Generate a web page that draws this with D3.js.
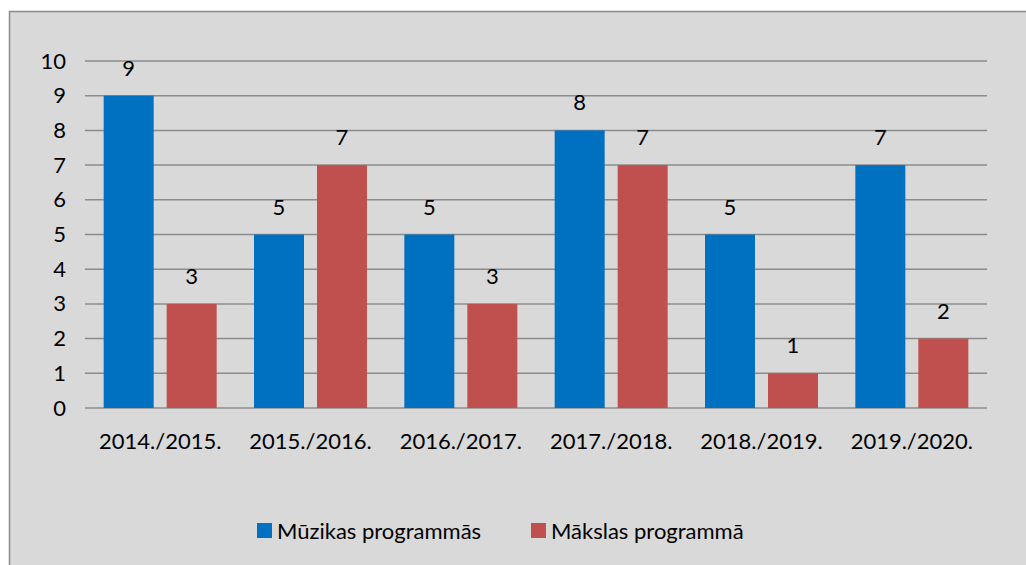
<!DOCTYPE html>
<html>
<head>
<meta charset="utf-8">
<script src="https://cdn.jsdelivr.net/npm/d3@7"></script>
<style>
  body { margin: 0; background: #fff; }
  text { font-family: Lato, "Open Sans", sans-serif; fill: #000; }
</style>
</head>
<body>
<div id="chart"></div>
<script>
// data
var years = ["2014./2015.", "2015./2016.", "2016./2017.", "2017./2018.", "2018./2019.", "2019./2020."];
var muzikas = [9, 5, 5, 8, 5, 7];
var makslas = [3, 7, 3, 7, 1, 2];
var seriesNames = ["Mūzikas programmās", "Mākslas programmā"];
var yTicks = [0, 1, 2, 3, 4, 5, 6, 7, 8, 9, 10];

var colors = ["#0070c0", "#c0504d"];

var W = 1026, H = 565;
var plot = {left: 85, right: 987, top: 61, bottom: 408};
var fs = 22;

var svg = d3.select("#chart").append("svg")
    .attr("width", W)
    .attr("height", H);

// grey chart area with border
svg.append("rect")
   .attr("x", 9.5).attr("y", 11.5)
   .attr("width", W + 10).attr("height", H + 10)
   .attr("fill", "#d9d9d9")
   .attr("stroke", "#8c8c8c")
   .attr("stroke-width", 1.5);

var x0 = d3.scaleBand()
    .domain(years)
    .range([plot.left, plot.right])
    .paddingInner(0).paddingOuter(0);

var y = d3.scaleLinear()
    .domain([0, 10])
    .range([plot.bottom, plot.top]);

// gridlines
svg.append("g").selectAll("line")
   .data(yTicks)
   .enter().append("line")
   .attr("x1", plot.left).attr("x2", plot.right)
   .attr("y1", function(d) { return y(d); })
   .attr("y2", function(d) { return y(d); })
   .attr("stroke", "#8c8c8c")
   .attr("stroke-width", 1.5);

// y axis labels
var yAxis = d3.axisLeft(y).tickValues(yTicks).tickSize(0).tickPadding(0);
var gy = svg.append("g")
   .attr("transform", "translate(66,0)")
   .call(yAxis);
gy.select(".domain").remove();
gy.selectAll("text").attr("font-size", fs).attr("font-family", "Lato, sans-serif").attr("fill", "#000");

// x axis labels
var xAxis = d3.axisBottom(x0).tickSize(0).tickPadding(0);
var gx = svg.append("g")
   .attr("transform", "translate(0,449)")
   .call(xAxis);
gx.select(".domain").remove();
gx.selectAll("text").attr("dy", 0).attr("font-size", fs).attr("font-family", "Lato, sans-serif").attr("fill", "#000");

// bars: barWidth 50, offsets relative to group center
var barW = 50, gap = 13;
var series = [muzikas, makslas];
series.forEach(function(vals, si) {
  var off = si === 0 ? -(gap / 2 + barW) : gap / 2;
  var g = svg.append("g");
  g.selectAll("rect")
   .data(vals)
   .enter().append("rect")
   .attr("x", function(d, i) { return x0(years[i]) + x0.bandwidth() / 2 + off; })
   .attr("y", function(d) { return y(d); })
   .attr("width", barW)
   .attr("height", function(d) { return y(0) - y(d); })
   .attr("fill", colors[si]);
  g.selectAll("text")
   .data(vals)
   .enter().append("text")
   .attr("x", function(d, i) { return x0(years[i]) + x0.bandwidth() / 2 + off + barW / 2; })
   .attr("y", function(d) { return y(d) - 20; })
   .attr("text-anchor", "middle")
   .attr("font-size", fs)
   .text(function(d) { return d; });
});

// legend
var legendX = [257, 531];
var lg = svg.append("g");
seriesNames.forEach(function(name, i) {
  lg.append("rect")
    .attr("x", legendX[i]).attr("y", 523)
    .attr("width", 15).attr("height", 15)
    .attr("fill", colors[i]);
  lg.append("text")
    .attr("x", legendX[i] + 20).attr("y", 539)
    .attr("font-size", fs)
    .text(name);
});
</script>
</body>
</html>
